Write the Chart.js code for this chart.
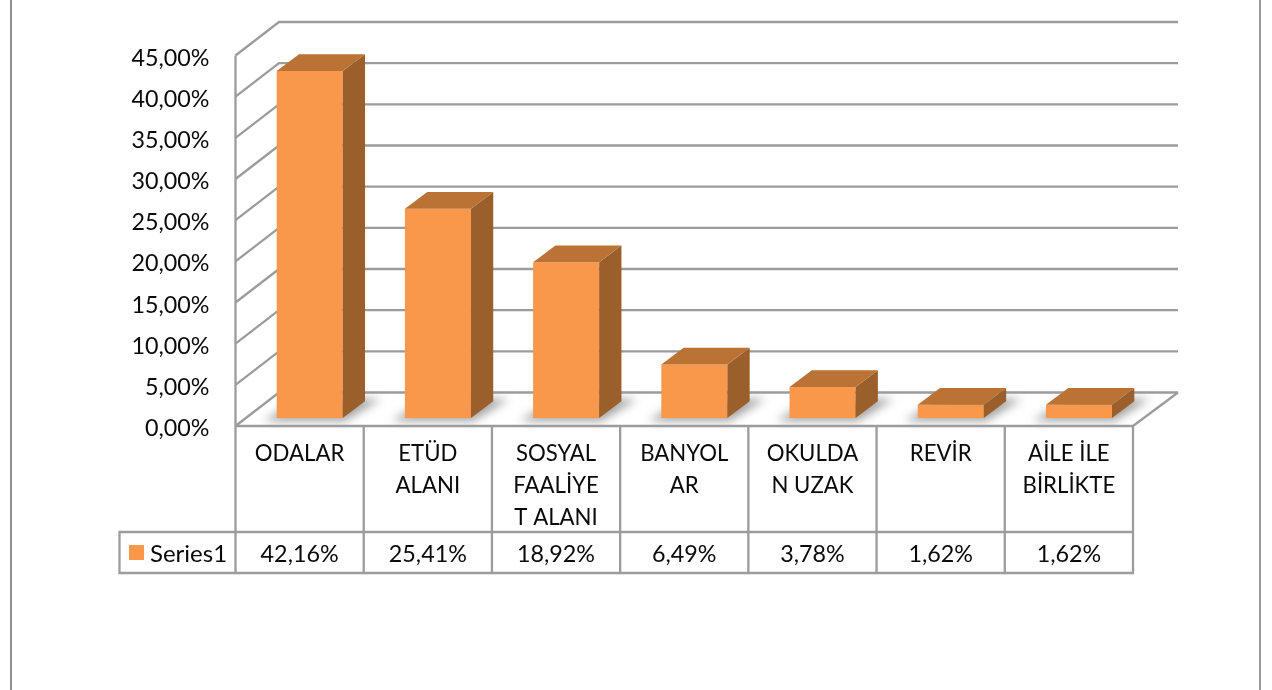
<!DOCTYPE html>
<html><head><meta charset="utf-8">
<style>html,body{margin:0;padding:0;background:#fff}canvas{display:block}</style>
<script src="https://cdn.jsdelivr.net/npm/chart.js@4"></script>
</head><body>
<canvas id="c" width="1272" height="690"></canvas>
<script>
const categories = [["ODALAR"],["ETÜD","ALANI"],["SOSYAL","FAALİYE","T ALANI"],["BANYOL","AR"],["OKULDA","N UZAK"],["REVİR"],["AİLE İLE","BİRLİKTE"]];
const seriesName = "Series1";
const values = [42.16,25.41,18.92,6.49,3.78,1.62,1.62];
const yTicks = [0,5,10,15,20,25,30,35,40,45];
const TEXT = '#0a0a0a';
const GRID = '#9c9c9c';
const fmt = v => v.toFixed(2).replace('.',',') + '%';
const WALL = {dx:43.5, dy:-33.5, rdx:45};
const BAR = {dx:10.1, dy:-8.0, sx:22.3, sy:-16.7};

function line(ctx, pts, color, w){
  ctx.beginPath();
  pts.forEach((p,i)=> i?ctx.lineTo(p[0],p[1]):ctx.moveTo(p[0],p[1]));
  ctx.strokeStyle=color; ctx.lineWidth=w; ctx.stroke();
}
function poly(ctx, pts, fill){
  ctx.beginPath();
  pts.forEach((p,i)=> i?ctx.lineTo(p[0],p[1]):ctx.moveTo(p[0],p[1]));
  ctx.closePath(); ctx.fillStyle=fill; ctx.fill();
}
const deco = {
  id:'deco',
  beforeDraw(chart){
    const {ctx,chartArea:a,scales:{x,y}}=chart;
    ctx.save();
    ctx.lineJoin='miter';
    line(ctx,[[11,0],[11,690]],'#8f8f8f',2);
    line(ctx,[[1260,0],[1260,690]],'#9a9a9a',2);
    yTicks.forEach(v=>{
      const py=y.getPixelForValue(v);
      line(ctx,[[a.left,py],[a.left+WALL.dx,py+WALL.dy],[a.right+WALL.rdx,py+WALL.dy]],GRID,2.3);
    });
    line(ctx,[[a.left,y.getPixelForValue(45)],[a.left,a.bottom]],GRID,2.3);
    line(ctx,[[a.right,a.bottom],[a.right+WALL.rdx,a.bottom+WALL.dy]],GRID,2.3);
    const rowMid=532, rowBot=573, legL=119.5;
    line(ctx,[[a.left,a.bottom],[a.right,a.bottom],[a.right,rowBot],[legL,rowBot],[legL,rowMid],[a.right,rowMid]],GRID,2.3);
    const cw=(a.right-a.left)/categories.length;
    for(let i=0;i<categories.length;i++){
      line(ctx,[[a.left+i*cw,a.bottom],[a.left+i*cw,rowBot]],GRID,2.3);
    }
    ctx.fillStyle=TEXT; ctx.textBaseline='middle'; ctx.textAlign='center';
    ctx.font='23.3px Lato';
    values.forEach((v,i)=>ctx.fillText(fmt(v),x.getPixelForValue(i),554));
    ctx.textAlign='left';
    ctx.font='24px Lato';
    ctx.fillText(seriesName,150,554);
    ctx.fillStyle='#F9984A'; ctx.fillRect(129,545,15,15);
    ctx.restore();
  },
  beforeDatasetsDraw(chart){
    const {ctx}=chart;
    const meta=chart.getDatasetMeta(0);
    ctx.save();
    ctx.filter='blur(5px)';
    meta.data.forEach(b=>{
      const l=b.x-b.width/2+BAR.dx, r=b.x+b.width/2+BAR.dx, bot=b.base+BAR.dy;
      poly(ctx,[[l-13,bot+3],[r+2,bot+3],[r+38,bot-19],[l+23,bot-19]],'#a2a2a2');
    });
    ctx.restore();
    ctx.save();
    ctx.translate(BAR.dx,BAR.dy);
  },
  afterDatasetsDraw(chart){
    const {ctx}=chart;
    const meta=chart.getDatasetMeta(0);
    meta.data.forEach(b=>{
      const l=b.x-b.width/2, r=b.x+b.width/2, t=b.y, bot=b.base;
      poly(ctx,[[r,t],[r+BAR.sx,t+BAR.sy],[r+BAR.sx,bot+BAR.sy],[r,bot]],'#9B5F2C');
      poly(ctx,[[l,t],[l+BAR.sx,t+BAR.sy],[r+BAR.sx,t+BAR.sy],[r,t]],'#BA7335');
    });
    ctx.restore();
  }
};
new Chart(document.getElementById('c'),{
  type:'bar',
  data:{labels:categories,datasets:[{label:seriesName,data:values,backgroundColor:'#F9984A',barPercentage:0.515,categoryPercentage:1}]},
  options:{
    responsive:false,animation:false,
    layout:{padding:{left:0,top:55.5,right:139,bottom:0}},
    plugins:{legend:{display:false},title:{display:false},tooltip:{enabled:false}},
    scales:{
      x:{grid:{display:false,drawTicks:false},border:{display:false},
         afterFit(s){s.height=264;},
         ticks:{autoSkip:false,maxRotation:0,minRotation:0,padding:12,color:TEXT,font:{family:'Lato',size:22.2,lineHeight:1.44}}},
      y:{min:0,max:45,grid:{display:false,drawTicks:false},border:{display:false},
         afterFit(s){s.width=235.5;},
         ticks:{stepSize:5,padding:26,labelOffset:2.5,color:TEXT,font:{family:'Lato',size:23.3},callback:v=>fmt(v)}}
    }
  },
  plugins:[deco]
});
</script>
</body></html>
